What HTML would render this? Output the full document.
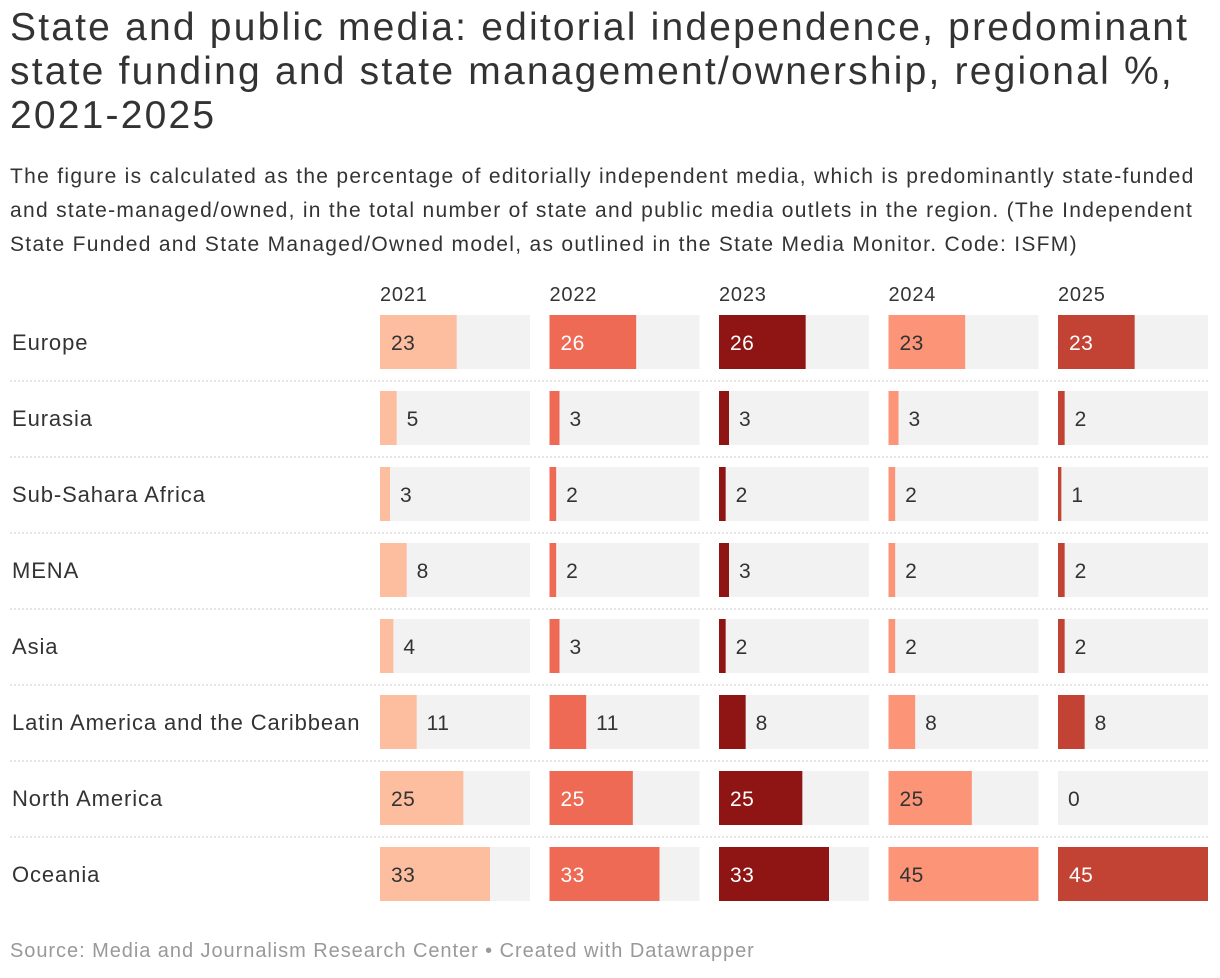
<!DOCTYPE html>
<html><head><meta charset="utf-8"><style>
body{margin:0;background:#fff;font-family:"Liberation Sans",Arial,sans-serif;color:#333;width:1220px;height:978px;overflow:hidden;position:relative}
#title{position:absolute;left:10px;top:6px;font-size:39px;line-height:44px;color:#333;margin:0;font-weight:normal;white-space:nowrap;letter-spacing:2.2px}
#sub{position:absolute;left:10px;top:160px;font-size:21px;line-height:34px;color:#333;margin:0;white-space:nowrap;letter-spacing:1.3px}
#src{position:absolute;left:10px;top:940px;font-size:20px;color:#999;letter-spacing:0.95px}
svg{position:absolute;left:0;top:0}
</style></head><body>
<h1 id="title">State and public media: editorial independence, predominant<br>state funding and state management/ownership, regional %,<br>2021-2025</h1>
<p id="sub">The figure is calculated as the percentage of editorially independent media, which is predominantly state-funded<br>and state-managed/owned, in the total number of state and public media outlets in the region. (The Independent<br>State Funded and State Managed/Owned model, as outlined in the State Media Monitor. Code: ISFM)</p>
<svg id="chart" width="1220" height="978"></svg>
<div id="src">Source: Media and Journalism Research Center • Created with Datawrapper</div>
<script>
const regions=["Europe","Eurasia","Sub-Sahara Africa","MENA","Asia","Latin America and the Caribbean","North America","Oceania"];
const years=["2021","2022","2023","2024","2025"];
const v2021=[23,5,3,8,4,11,25,33];
const v2022=[26,3,2,2,3,11,25,33];
const v2023=[26,3,2,3,2,8,25,33];
const v2024=[23,3,2,2,2,8,25,45];
const v2025=[23,2,1,2,2,8,0,45];
const series=[v2021,v2022,v2023,v2024,v2025];
const colors=["#fdbea0","#ee6a55","#8f1414","#fc9478","#c24234"];
const inkInside=["#333","#fff","#fff","#333","#fff"];
const svg=document.getElementById('chart');
const NS="http://www.w3.org/2000/svg";
const colX=i=>380+i*169.5;
const W=150,maxV=45;
const xs=v=>v/maxV*W;
const rowY=r=>342+r*76;
const BH=54;
function mk(t,a){const e=document.createElementNS(NS,t);for(const k in a)e.setAttribute(k,a[k]);svg.appendChild(e);return e;}
years.forEach((y,i)=>{const t=mk('text',{x:colX(i),y:301,'font-size':20,fill:'#333','letter-spacing':0.8});t.textContent=y;

});
regions.forEach((reg,r)=>{
 const cy=rowY(r);
 const l=mk('text',{x:12,y:cy+8,'font-size':22,fill:'#333','letter-spacing':0.9});l.textContent=reg;
 
 
 if(r<regions.length-1){const ln=mk('line',{x1:10,x2:1208,y1:cy+39,y2:cy+39,stroke:'#ccc','stroke-dasharray':'2,2','stroke-width':1});
 
 }
 series.forEach((s,i)=>{
  const v=s[r];const x0=colX(i);
  const bg=mk('rect',{x:x0,y:cy-BH/2,width:W,height:BH,fill:'#f2f2f2'});
  
  
  const b=mk('rect',{x:x0,y:cy-BH/2,width:xs(v),height:BH,fill:colors[i]});
  
  
  const inside=v>=15;
  const t=mk('text',{x:inside?x0+11:x0+xs(v)+10,y:cy+8,'font-size':21,fill:inside?inkInside[i]:'#333','letter-spacing':0.5});
  t.textContent=v;
  
  
 });
});
</script>
</body></html>
